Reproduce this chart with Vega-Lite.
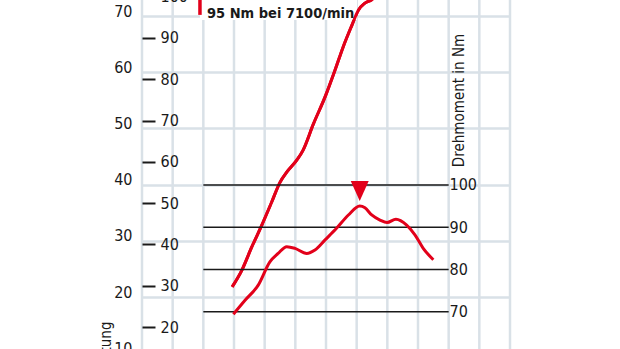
{
  "$schema": "https://vega.github.io/schema/vega-lite/v6.json",
  "width": 368,
  "height": 349,
  "autosize": {"type": "none"},
  "padding": {"left": 142, "right": 110, "top": 0, "bottom": 0},
  "background": "white",
  "config": {
    "view": {"stroke": null},
    "font": "DejaVu Sans Condensed, Liberation Sans Narrow, Roboto, sans-serif",
    "axis": {
      "labelFont": "DejaVu Sans Condensed, Liberation Sans Narrow, Roboto, sans-serif",
      "labelFontSize": 16,
      "labelColor": "#1a1a1a",
      "titleFont": "DejaVu Sans Condensed, Liberation Sans Narrow, Roboto, sans-serif",
      "titleFontWeight": "normal",
      "titleFontSize": 15,
      "titleColor": "#1a1a1a",
      "labelOverlap": false,
      "labelFlush": false,
      "domain": false
    }
  },
  "datasets": {
    "rpmGrid": [
      {"rpm": 0}, {"rpm": 1000}, {"rpm": 2000}, {"rpm": 3000}, {"rpm": 4000}, {"rpm": 5000},
      {"rpm": 6000}, {"rpm": 7000}, {"rpm": 8000}, {"rpm": 9000}, {"rpm": 10000}, {"rpm": 11000}, {"rpm": 12000}
    ],
    "power": [
      {"rpm": 2940, "kW": 21.8}, {"rpm": 3250, "kW": 24.7}, {"rpm": 3580, "kW": 28.9},
      {"rpm": 3900, "kW": 32.7}, {"rpm": 4230, "kW": 36.9}, {"rpm": 4500, "kW": 40.4},
      {"rpm": 4720, "kW": 42.2}, {"rpm": 5040, "kW": 44.3}, {"rpm": 5250, "kW": 46.1},
      {"rpm": 5590, "kW": 50.8}, {"rpm": 5970, "kW": 55.6}, {"rpm": 6290, "kW": 60.3},
      {"rpm": 6560, "kW": 64.5}, {"rpm": 6840, "kW": 68.3}, {"rpm": 7050, "kW": 71.0},
      {"rpm": 7270, "kW": 72.3}, {"rpm": 7490, "kW": 72.9}, {"rpm": 7760, "kW": 74.5},
      {"rpm": 8030, "kW": 76.4}
    ],
    "torque": [
      {"rpm": 2980, "Nm": 69.4}, {"rpm": 3360, "Nm": 72.7}, {"rpm": 3790, "Nm": 76.3},
      {"rpm": 4170, "Nm": 81.8}, {"rpm": 4440, "Nm": 83.8}, {"rpm": 4720, "Nm": 85.4},
      {"rpm": 4990, "Nm": 85.0}, {"rpm": 5370, "Nm": 83.8}, {"rpm": 5640, "Nm": 84.6},
      {"rpm": 5970, "Nm": 87.0}, {"rpm": 6350, "Nm": 89.8}, {"rpm": 6730, "Nm": 92.9},
      {"rpm": 7100, "Nm": 95.0}, {"rpm": 7270, "Nm": 94.6}, {"rpm": 7490, "Nm": 92.9},
      {"rpm": 7760, "Nm": 91.7}, {"rpm": 7990, "Nm": 91.1}, {"rpm": 8280, "Nm": 91.9},
      {"rpm": 8630, "Nm": 90.5}, {"rpm": 8900, "Nm": 88.2}, {"rpm": 9170, "Nm": 85.0},
      {"rpm": 9500, "Nm": 82.3}
    ],
    "torqueLines": [{"Nm": 70}, {"Nm": 80}, {"Nm": 90}, {"Nm": 100}],
    "peak": [{"rpm": 7100, "Nm": 95, "label": "95 Nm bei 7100/min"}]
  },
  "resolve": {"scale": {"y": "independent"}, "axis": {"y": "independent"}},
  "layer": [
    {
      "data": {"name": "rpmGrid"},
      "mark": {"type": "rule", "color": "#d9e1e7", "strokeWidth": 2.5},
      "encoding": {
        "x": {
          "field": "rpm", "type": "quantitative",
          "scale": {"domain": [0, 12000], "nice": false, "zero": false},
          "axis": null
        }
      }
    },
    {
      "data": {"name": "power"},
      "mark": {"type": "line", "color": "#e2001a", "strokeWidth": 3, "interpolate": "monotone"},
      "encoding": {
        "x": {"field": "rpm", "type": "quantitative", "axis": null},
        "y": {
          "field": "kW", "type": "quantitative",
          "scale": {"domain": [0, 80], "range": [409.4, -40.2], "nice": false, "zero": false},
          "axis": {
            "orient": "left",
            "values": [10, 20, 30, 40, 50, 60, 70],
            "grid": true, "gridColor": "#d9e1e7", "gridWidth": 2.5,
            "ticks": false, "tickSize": 0, "labelPadding": 10,
            "labelBaseline": "alphabetic",
            "title": "Leistung",
            "titleAngle": -90, "titleAlign": "right", "titleBaseline": "alphabetic",
            "titleX": -32, "titleY": 321
          }
        }
      }
    },
    {
      "data": {"name": "peak"},
      "mark": {"type": "rect", "color": "white"},
      "encoding": {
        "x": {"datum": 1890, "type": "quantitative", "axis": null},
        "x2": {"datum": 7010},
        "y": {"datum": 69.3, "type": "quantitative", "scale": {"domain": [0, 80], "range": [409.4, -40.2], "nice": false, "zero": false}, "axis": null},
        "y2": {"datum": 80}
      }
    },
    {
      "data": {"name": "power"},
      "mark": {"type": "line", "color": "#e2001a", "strokeWidth": 3, "interpolate": "monotone"},
      "encoding": {
        "x": {"field": "rpm", "type": "quantitative", "axis": null},
        "y": {"field": "kW", "type": "quantitative", "scale": {"domain": [0, 80], "range": [409.4, -40.2], "nice": false, "zero": false}, "axis": null}
      }
    },
    {
      "data": {"name": "peak"},
      "mark": {"type": "rule", "color": "#e2001a", "strokeWidth": 3.5},
      "encoding": {
        "x": {"datum": 1890, "type": "quantitative", "axis": null},
        "y": {"datum": 70.2, "type": "quantitative", "scale": {"domain": [0, 80], "range": [409.4, -40.2], "nice": false, "zero": false}, "axis": null},
        "y2": {"datum": 80}
      }
    },
    {
      "data": {"name": "peak"},
      "mark": {"type": "text", "align": "left", "baseline": "alphabetic", "fontSize": 14.5, "fontWeight": "bold", "color": "#1a1a1a"},
      "encoding": {
        "text": {"field": "label"},
        "x": {"datum": 2120, "type": "quantitative", "axis": null},
        "y": {"datum": 69.6, "type": "quantitative", "scale": {"domain": [0, 80], "range": [409.4, -40.2], "nice": false, "zero": false}, "axis": null}
      }
    },
    {
      "data": {"values": []},
      "mark": "point",
      "encoding": {
        "y": {
          "field": "PS", "type": "quantitative",
          "scale": {"domain": [0, 110], "range": [409.6, -44.6], "nice": false, "zero": false},
          "axis": {
            "orient": "right", "offset": -368, "zindex": 1,
            "values": [20, 30, 40, 50, 60, 70, 80, 90, 100],
            "grid": false, "ticks": true, "tickSize": 13, "tickWidth": 2, "tickColor": "#1a1a1a",
            "labelPadding": 5, "labelAlign": "left", "title": null
          }
        }
      }
    },
    {
      "data": {"name": "torqueLines"},
      "mark": {"type": "rule", "color": "#1a1a1a", "strokeWidth": 1.5},
      "encoding": {
        "x": {"datum": 2000, "type": "quantitative", "axis": null},
        "x2": {"datum": 10000},
        "y": {
          "field": "Nm", "type": "quantitative",
          "scale": {"domain": [61.17, 143.8], "nice": false, "zero": false},
          "axis": {
            "orient": "right", "offset": -62, "zindex": 1,
            "values": [70, 80, 90, 100],
            "ticks": false, "tickSize": 0, "labelPadding": 1, "labelAlign": "left",
            "title": "Drehmoment in Nm",
            "titleAngle": -90, "titleAlign": "center", "titleBaseline": "middle",
            "titleX": 10, "titleY": 100
          }
        }
      }
    },
    {
      "data": {"name": "torque"},
      "mark": {"type": "line", "color": "#e2001a", "strokeWidth": 3, "interpolate": "monotone"},
      "encoding": {
        "x": {"field": "rpm", "type": "quantitative", "axis": null},
        "y": {"field": "Nm", "type": "quantitative", "scale": {"domain": [61.17, 143.8], "nice": false, "zero": false}, "axis": null}
      }
    },
    {
      "data": {"name": "peak"},
      "mark": {"type": "point", "shape": "M-0.9,-1L0.9,-1L0,1Z", "size": 400, "filled": true, "color": "#e2001a", "opacity": 1, "yOffset": -15},
      "encoding": {
        "x": {"field": "rpm", "type": "quantitative", "axis": null},
        "y": {"field": "Nm", "type": "quantitative", "scale": {"domain": [61.17, 143.8], "nice": false, "zero": false}, "axis": null}
      }
    }
  ]
}
